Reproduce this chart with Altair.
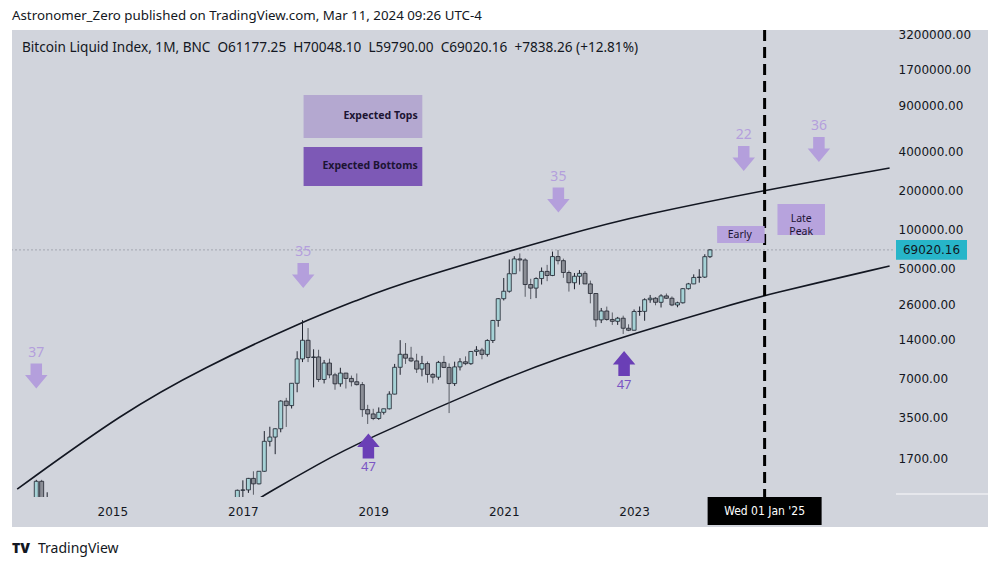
import altair as alt
import pandas as pd

# ---------------- data ----------------
# monthly candles of the Bitcoin Liquid Index (only months that reach the visible range)
candle_months = ["2013-11-01", "2013-12-01", "2014-01-01"] + [
    d.strftime("%Y-%m-%d") for d in pd.date_range("2016-12-01", "2024-03-01", freq="MS")
]
opens = [205, 1130, 760, 745,
         963, 970, 1190, 1080, 1350, 2300, 2480, 2875, 4700, 4340, 6450, 9950,
         13850, 10200, 10300, 6900, 9240, 7490, 6390, 7730, 7030, 6625, 6300, 4040,
         3740, 3450, 3850, 4100, 5320, 8570, 10800, 10080, 9600, 8300, 9150, 7550,
         7190, 9350, 8550, 6420, 8630, 9450, 9140, 11350, 11650, 10780, 13800, 19700,
         29000, 33100, 45200, 58800, 57700, 37300, 35000, 41500, 47100, 43800, 61300, 57000,
         46200, 38500, 43200, 45500, 37700, 31800, 19900, 23300, 20050, 19400, 20500, 17150,
         16550, 23100, 23150, 28480, 29250, 27200, 30470, 29230, 25940, 26970, 34650, 37720,
         42280, 42580, 61177.25]
highs = [1160, 1160, 930, 975,
         1150, 1200, 1350, 1350, 2760, 2980, 2900, 4770, 4980, 6470, 11400, 19800,
         17200, 11800, 11700, 9760, 9990, 7770, 8500, 7760, 7400, 7680, 6600, 4400,
         4100, 4200, 4100, 5600, 9100, 13880, 13200, 12330, 10900, 10500, 9500, 7750,
         9600, 10500, 9190, 9470, 10070, 10400, 11450, 12470, 12100, 14100, 19900, 29300,
         41900, 58300, 61700, 64800, 59500, 41300, 42400, 50500, 52900, 67000, 69000, 59100,
         47900, 45800, 48200, 47400, 40000, 31900, 24600, 25200, 22700, 20980, 21450, 18400,
         23950, 25250, 29200, 31000, 29850, 31400, 31800, 30200, 27480, 35000, 38400, 44700,
         48970, 63900, 70048.10]
lows = [195, 520, 740, 740,
        750, 920, 890, 1070, 1340, 2100, 1830, 2700, 2970, 4120, 5500, 9400,
        9400, 6000, 6600, 6430, 7050, 5750, 6070, 5880, 6100, 6200, 3550, 3130,
        3350, 3370, 3700, 4050, 5300, 7500, 9100, 9400, 7750, 7300, 6520, 6430,
        6870, 8450, 3800, 6150, 8100, 8900, 8950, 10500, 9880, 10370, 13200, 17600,
        28100, 32300, 45000, 47100, 30000, 28800, 29300, 37300, 39600, 43300, 53300, 42000,
        32900, 34300, 37200, 37600, 26700, 17600, 18800, 19600, 18200, 18200, 15500, 16300,
        16500, 21400, 19600, 26950, 25800, 24800, 28900, 25400, 24900, 26600, 34100, 37600,
        38550, 41880, 59790.00]
closes = [1130, 760, 830, 963,
          970, 1190, 1080, 1350, 2300, 2480, 2875, 4700, 4340, 6450, 9950, 13850,
          10200, 10300, 6900, 9240, 7490, 6390, 7730, 7030, 6625, 6300, 4040, 3740,
          3450, 3850, 4100, 5320, 8570, 10800, 10080, 9600, 8300, 9150, 7550, 7190,
          9350, 8550, 6420, 8630, 9450, 9140, 11350, 11650, 10780, 13800, 19700, 29000,
          33100, 45200, 58800, 57700, 37300, 35000, 41500, 47100, 43800, 61300, 57000, 46200,
          38500, 43200, 45500, 37700, 31800, 19900, 23300, 20050, 19400, 20500, 17150, 16550,
          23100, 23150, 28480, 29250, 27200, 30470, 29230, 25940, 26970, 34650, 37720, 42280,
          42580, 61181.90, 69020.16]
last_close = 69020.16

# regression band curves
upper_dates = ["2013-07-17", "2015-03-06", "2016-05-22", "2017-11-27", "2018-10-08",
               "2019-06-03", "2022-03-13", "2023-01-22", "2025-01-01", "2026-12-02"]
upper_vals = [984, 3874, 8450, 19180, 28340, 38310, 98240, 126000, 200000, 295700]
lower_dates = ["2017-02-24", "2017-05-01", "2018-03-19", "2018-10-08", "2020-12-09",
               "2021-11-06", "2023-01-06", "2024-06-04", "2025-01-01", "2026-12-02"]
lower_vals = [771, 886, 1592, 2235, 6827, 10110, 15750, 25480, 30950, 51800]

# expected tops (down arrows) and bottoms (up arrows)
top_dates = ["2013-11-01", "2017-12-05", "2021-11-03", "2024-09-06", "2025-11-01"]
top_prices = [7337, 43770, 167400, 350100, 410800]
top_labels = ["37", "35", "35", "22", "36"]
bottom_dates = ["2018-12-05", "2022-11-06"]
bottom_prices = [2113, 9153]
bottom_labels = ["47", "47"]

# annotation boxes
box_x1 = ["2017-12-07", "2017-12-07", "2024-04-10", "2025-03-14"]
box_x2 = ["2019-10-03", "2019-10-03", "2025-01-01", "2025-12-05"]
box_y1 = [1082000, 429500, 105480, 155900]
box_y2 = [504000, 214700, 77980, 89880]
box_fill = ["#b4a8d0", "#7d59b6", "#b7a3dd", "#b7a3dd"]

legend_dates = ["2019-09-07", "2019-09-07"]
legend_prices = [745000, 306400]
legend_labels = ["Expected Tops", "Expected Bottoms"]
note_dates = ["2024-08-15", "2025-07-25"]
note_prices = [90690, 119460]
note_labels = ["Early", "Late\nPeak"]

marker_date = "2025-01-01"
year_ticks = [2015, 2017, 2019, 2021, 2023]
price_ticks = [1700, 3500, 7000, 14000, 26000, 50000, 100000, 200000, 400000,
               900000, 1700000, 3200000]

header = "Astronomer_Zero published on TradingView.com, Mar 11, 2024 09:26 UTC-4"
legend_line = ("Bitcoin Liquid Index, 1M, BNC \u00a0O61177.25 \u00a0H70048.10 \u00a0L59790.00"
               " \u00a0C69020.16 \u00a0+7838.26 (+12.81%)")

# ---------------- frames ----------------
candles = pd.DataFrame({"date": pd.to_datetime(candle_months), "open": opens,
                        "high": highs, "low": lows, "close": closes})
candles["dir"] = ["up" if c >= o else "down" for o, c in zip(opens, closes)]
upper = pd.DataFrame({"date": pd.to_datetime(upper_dates), "v": upper_vals})
lower = pd.DataFrame({"date": pd.to_datetime(lower_dates), "v": lower_vals})
tops = pd.DataFrame({"date": pd.to_datetime(top_dates), "p": top_prices, "label": top_labels})
bottoms = pd.DataFrame({"date": pd.to_datetime(bottom_dates), "p": bottom_prices, "label": bottom_labels})
boxes = pd.DataFrame({"x1": pd.to_datetime(box_x1), "x2": pd.to_datetime(box_x2),
                      "y1": box_y1, "y2": box_y2, "fill": box_fill})
legend_df = pd.DataFrame({"date": pd.to_datetime(legend_dates), "p": legend_prices, "label": legend_labels})
notes_df = pd.DataFrame({"date": pd.to_datetime(note_dates), "p": note_prices, "label": note_labels})
marker_df = pd.DataFrame({"date": pd.to_datetime([marker_date]), "label": ["Wed 01 Jan '25"]})
price_df = pd.DataFrame({"p": [last_close], "label": [f"{last_close:.2f}"]})
one = pd.DataFrame({"k": [0]})

TXT = "#131722"
xs = alt.Scale(domain=[alt.DateTime(year=2013, month=7, date=16),
                       alt.DateTime(year=2026, month=11, date=23)])
ys = alt.Scale(type="log", domain=[855, 3436000], nice=False)
x_axis = alt.Axis(values=[alt.DateTime(year=y, month=1, date=1) for y in year_ticks],
                  format="%Y", labelFont="DejaVu Sans", labelFontSize=12, labelColor=TXT,
                  domain=False, ticks=False, grid=False, labelPadding=9, title="",
                  labelFlush=False)
y_axis = alt.Axis(orient="right", values=price_ticks, format=".2f", labelFont="DejaVu Sans",
                  labelFontSize=12, labelColor=TXT, domain=False, ticks=False, grid=False,
                  labelPadding=5, title="", labelOverlap=False)


def X(f="date"):
    return alt.X(f"{f}:T", scale=xs, axis=x_axis)


def Y(f):
    return alt.Y(f"{f}:Q", scale=ys, axis=y_axis)


DOWN = "M-0.46,-1L0.46,-1L0.46,-0.08L0.9,-0.08L0,1L-0.9,-0.08L-0.46,-0.08Z"
UP = "M-0.46,1L0.46,1L0.46,0.08L0.9,0.08L0,-1L-0.9,0.08L-0.46,0.08Z"
RECT_TAG = "M-1,-0.28L1,-0.28L1,0.28L-1,0.28Z"
RECT_TIME = "M-1,-0.245L1,-0.245L1,0.245L-1,0.245Z"

layers = []
layers.append(alt.Chart(price_df).mark_rule(color="#a3a7b1", strokeDash=[2, 2], strokeWidth=1)
              .encode(y=Y("p")))
for d in (upper, lower):
    layers.append(alt.Chart(d).mark_line(clip=True, color=TXT, strokeWidth=1.6, interpolate="basis")
                  .encode(x=X(), y=Y("v")))
layers.append(alt.Chart(marker_df).mark_rule(color="black", strokeWidth=3, strokeDash=[11, 6])
              .encode(x=X()))
layers.append(alt.Chart(candles).mark_rule(clip=True, strokeWidth=1).encode(
    x=X(), y=Y("low"), y2=alt.Y2("high"),
    color=alt.Color("dir:N", scale=alt.Scale(domain=["up", "down"], range=["#1e222d", "#5a5d66"]),
                    legend=None)))
layers.append(alt.Chart(candles).mark_bar(clip=True, size=4, stroke="#1e222d", strokeWidth=0.8).encode(
    x=X(), y=Y("open"), y2=alt.Y2("close"),
    fill=alt.Fill("dir:N", scale=alt.Scale(domain=["up", "down"], range=["#a6d2d6", "#8b8e96"]),
                  legend=None)))
layers.append(alt.Chart(boxes).mark_rect().encode(
    x=X("x1"), x2=alt.X2("x2"), y=Y("y1"), y2=alt.Y2("y2"), color=alt.Color("fill:N", scale=None)))
layers.append(alt.Chart(legend_df).mark_text(align="right", baseline="middle", font="Noto Sans",
                                             fontSize=10.5, fontWeight="bold", color="#1c1433")
              .encode(x=X(), y=Y("p"), text="label:N"))
layers.append(alt.Chart(notes_df).mark_text(align="center", baseline="middle", font="Noto Sans",
                                            fontSize=10.5, color="#1c1433", lineBreak="\n", lineHeight=13)
              .encode(x=X(), y=Y("p"), text="label:N"))
layers.append(alt.Chart(tops).mark_point(shape=DOWN, filled=True, size=625, color="#b49fdc", opacity=1)
              .encode(x=X(), y=Y("p")))
layers.append(alt.Chart(tops).mark_text(dy=-23.5, baseline="middle", font="Noto Sans", fontSize=14,
                                        color="#b49fdc")
              .encode(x=X(), y=Y("p"), text="label:N"))
layers.append(alt.Chart(bottoms).mark_point(shape=UP, filled=True, size=625, color="#6a3fb6", opacity=1)
              .encode(x=X(), y=Y("p")))
layers.append(alt.Chart(bottoms).mark_text(dy=21, baseline="middle", font="Noto Sans", fontSize=13,
                                           color="#7b55c4")
              .encode(x=X(), y=Y("p"), text="label:N"))
layers.append(alt.Chart(one).mark_text(text=legend_line, align="left", baseline="middle",
                                       font="Noto Sans", fontSize=13.6, color=TXT)
              .encode(x=alt.value(10), y=alt.value(18)))

# white page frame around the panel
for (x1, x2, y1, y2) in [(-12, 988, -30, 0), (-12, 988, 497, 539), (-12, 0, -30, 539), (976, 988, -30, 539)]:
    layers.append(alt.Chart(one).mark_rect(color="white")
                  .encode(x=alt.value(x1), x2=alt.value(x2), y=alt.value(y1), y2=alt.value(y2)))

layers.append(alt.Chart(one).mark_text(text=header, align="left", baseline="middle",
                                       font="Noto Sans", fontSize=13.3, color=TXT)
              .encode(x=alt.value(0), y=alt.value(-14)))
layers.append(alt.Chart(one).mark_text(text="TV", align="left", baseline="middle",
                                       font="Noto Sans", fontSize=14, fontWeight=900, color=TXT)
              .encode(x=alt.value(0), y=alt.value(519)))
layers.append(alt.Chart(one).mark_text(text="TradingView", align="left", baseline="middle",
                                       font="Noto Sans", fontSize=14, color=TXT)
              .encode(x=alt.value(26), y=alt.value(519)))
layers.append(alt.Chart(one).mark_rule(color="#eceef2", strokeWidth=1.5)
              .encode(x=alt.value(884), x2=alt.value(976), y=alt.value(464)))
layers.append(alt.Chart(price_df).mark_point(shape=RECT_TAG, filled=True, size=5041, color="#27b5c9",
                                             opacity=1)
              .encode(x=alt.value(919.5), y=Y("p")))
layers.append(alt.Chart(price_df).mark_text(align="center", baseline="middle", font="DejaVu Sans",
                                            fontSize=12, color=TXT)
              .encode(x=alt.value(919.5), y=Y("p"), text="label:N"))
layers.append(alt.Chart(marker_df).mark_point(shape=RECT_TIME, filled=True, size=12996, color="black",
                                              opacity=1)
              .encode(x=X(), y=alt.value(481)))
layers.append(alt.Chart(marker_df).mark_text(align="center", baseline="middle",
                                             font="'DejaVu Sans Condensed', Roboto", fontSize=12,
                                             color="white")
              .encode(x=X(), y=alt.value(481), text="label:N"))

chart = alt.layer(*layers).properties(
    width=881, height=467, background="#d1d4dc",
    padding={"left": 12, "top": 30, "right": 107, "bottom": 72},
    autosize=alt.AutoSizeParams(type="none"),
).configure_view(strokeWidth=0)

chart.save("out.html", embed_options={"renderer": "svg", "actions": False})
